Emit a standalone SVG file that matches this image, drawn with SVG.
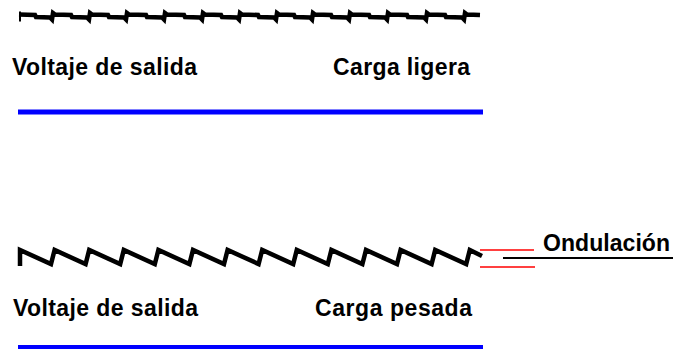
<svg xmlns="http://www.w3.org/2000/svg" width="675" height="349" viewBox="0 0 675 349">
<style>
.lbl{font-family:"Liberation Sans",Arial,sans-serif;font-weight:bold;font-size:23px;fill:#000}
.wave{fill:none;stroke:#000;stroke-width:4.5;stroke-linejoin:miter}
.red{stroke:#ff0000;stroke-width:1.6}
</style>
<rect width="675" height="349" fill="#fff"/>
<g id="light-load">
<line x1="20" y1="11.5" x2="20" y2="21.5" stroke="#000" stroke-width="2"/>
<path class="wave" d="M19,14.5 L35,15 L36,17 L50,17.5 L52,19.5 L53,13 L55,14.5 L71,15 L72,17 L87,17.5 L89,19.5 L90,13 L92,14.5 L108,15 L109,17 L124,17.5 L126,19.5 L127,13 L129,14.5 L146,15 L147,17 L162,17.5 L164,19.5 L165,13 L167,14.5 L184,15 L185,17 L200,17.5 L202,19.5 L203,13 L205,14.5 L221,15 L222,17 L237,17.5 L239,19.5 L240,13 L242,14.5 L258,15 L259,17 L274,17.5 L276,19.5 L277,13 L279,14.5 L294,15 L295,17 L310,17.5 L312,19.5 L313,13 L315,14.5 L331,15 L332,17 L347,17.5 L349,19.5 L350,13 L352,14.5 L369,15 L370,17 L385,17.5 L387,19.5 L388,13 L390,14.5 L407,15 L408,17 L424,17.5 L426,19.5 L427,13 L429,14.5 L445,15 L446,17 L462,17.5 L464,19.5 L465,13 L467,14.5 L480,15"/>
<text class="lbl" x="12" y="75" textLength="185" lengthAdjust="spacing">Voltaje de salida</text>
<text class="lbl" x="333" y="75" textLength="137" lengthAdjust="spacing">Carga ligera</text>
<rect x="18" y="109.5" width="465" height="5" fill="#0000ff"/>
</g>
<g id="heavy-load">
<path class="wave" d="M20,266 L20,250 L51,264 L54.6,250 L85.6,264 L89.2,250 L120.2,264 L123.8,250 L154.8,264 L158.4,250 L189.4,264 L193,250 L224,264 L227.6,250 L258.6,264 L262.2,250 L293.2,264 L296.8,250 L327.8,264 L331.4,250 L362.4,264 L366,250 L397,264 L400.6,250 L431.6,264 L435.2,250 L466.2,264 L469.8,250 L482,256"/>
<text class="lbl" x="13" y="316" textLength="185" lengthAdjust="spacing">Voltaje de salida</text>
<text class="lbl" x="315" y="316" textLength="157" lengthAdjust="spacing">Carga pesada</text>
<rect x="18" y="345" width="465" height="5" fill="#0000ff"/>
</g>
<g id="ripple">
<line class="red" x1="480" y1="250" x2="534" y2="250"/>
<line class="red" x1="480" y1="267" x2="535" y2="267"/>
<line x1="503" y1="258" x2="673" y2="258" stroke="#000" stroke-width="2"/>
<text class="lbl" x="543" y="251" textLength="127" lengthAdjust="spacing">Ondulación</text>
</g>
</svg>
